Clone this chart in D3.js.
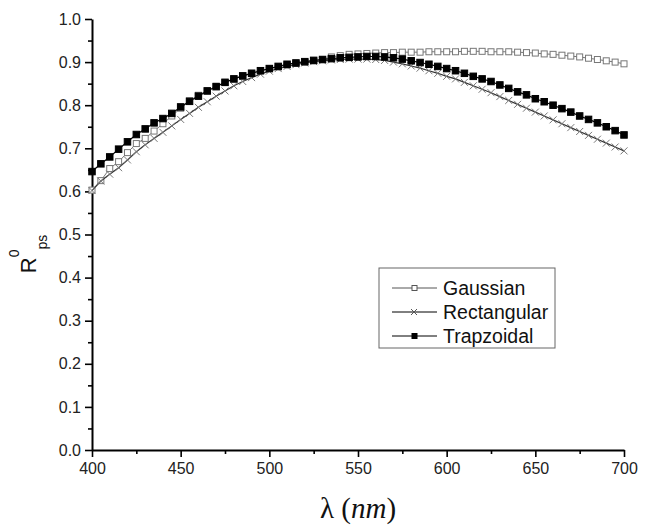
<!DOCTYPE html>
<html>
<head>
<meta charset="utf-8">
<script src="https://cdn.jsdelivr.net/npm/d3@7"></script>
<style>
body { margin: 0; background: #fff; }
svg { display: block; font-family: "Liberation Sans", Arial, sans-serif; }
.axis path, .axis line { stroke: #000; }
.axis text { font-size: 16px; fill: #222; font-family: "Liberation Sans", Arial, sans-serif; }
</style>
</head>
<body>
<svg id="chart"></svg>
<script>
// wavelength (nm)
const wavelength = [400,405,410,415,420,425,430,435,440,445,450,455,460,465,470,475,480,485,490,495,
  500,505,510,515,520,525,530,535,540,545,550,555,560,565,570,575,580,585,590,595,
  600,605,610,615,620,625,630,635,640,645,650,655,660,665,670,675,680,685,690,695,700];

const gaussian = [0.603,0.625,0.653,0.669,0.690,0.711,0.723,0.740,0.757,0.775,0.793,0.810,0.823,0.834,0.844,0.853,0.861,0.868,0.874,0.880,
  0.885,0.889,0.893,0.897,0.900,0.903,0.906,0.912,0.915,0.918,0.919,0.920,0.921,0.922,0.922,0.923,0.923,0.923,0.924,0.924,
  0.924,0.924,0.925,0.925,0.925,0.924,0.924,0.924,0.923,0.922,0.921,0.919,0.918,0.916,0.914,0.912,0.909,0.906,0.903,0.900,0.896];

const rectangular = [0.602,0.624,0.640,0.655,0.673,0.692,0.708,0.723,0.737,0.752,0.767,0.781,0.795,0.808,0.821,0.833,0.845,0.855,0.864,0.872,
  0.879,0.885,0.890,0.894,0.898,0.901,0.903,0.905,0.906,0.907,0.907,0.907,0.906,0.904,0.900,0.896,0.891,0.886,0.880,0.874,
  0.867,0.861,0.853,0.845,0.837,0.829,0.820,0.811,0.802,0.793,0.784,0.775,0.766,0.757,0.748,0.739,0.730,0.721,0.712,0.703,0.694];

const trapzoidal = [0.646,0.664,0.680,0.698,0.715,0.732,0.745,0.759,0.769,0.781,0.796,0.809,0.821,0.833,0.843,0.853,0.861,0.868,0.874,0.880,
  0.885,0.890,0.895,0.898,0.901,0.904,0.906,0.908,0.910,0.911,0.912,0.913,0.913,0.912,0.910,0.907,0.903,0.899,0.895,0.890,
  0.885,0.880,0.874,0.867,0.861,0.855,0.847,0.839,0.831,0.824,0.815,0.808,0.800,0.792,0.784,0.775,0.767,0.759,0.750,0.741,0.731];

const xTicks = [400,450,500,550,600,650,700];
const xMinor = [425,475,525,575,625,675];
const yTicks = [0,0.1,0.2,0.3,0.4,0.5,0.6,0.7,0.8,0.9,1.0];
const yMinor = [0.05,0.15,0.25,0.35,0.45,0.55,0.65,0.75,0.85,0.95];
const seriesNames = ['Gaussian','Rectangular','Trapzoidal'];

const width = 649, height = 525;
const margin = {top: 19, right: 25, bottom: 75, left: 92};
const innerW = width - margin.left - margin.right;
const innerH = height - margin.top - margin.bottom;

const svg = d3.select('#chart').attr('width', width).attr('height', height);
const chart = svg.append('g').attr('transform', `translate(${margin.left},${margin.top})`);

const xscale = d3.scaleLinear().domain([400,700]).range([0, innerW]);
const yscale = d3.scaleLinear().domain([0,1]).range([innerH, 0]);

// minor ticks
chart.append('g').attr('class','axis')
  .attr('transform', `translate(0,${innerH})`)
  .call(d3.axisBottom(xscale).tickValues(xMinor).tickSize(4).tickSizeOuter(0).tickFormat(''))
  .call(g => g.select('.domain').remove())
  .selectAll('line').attr('stroke-width', 1.6);
chart.append('g').attr('class','axis')
  .call(d3.axisLeft(yscale).tickValues(yMinor).tickSize(4).tickSizeOuter(0).tickFormat(''))
  .call(g => g.select('.domain').remove())
  .selectAll('line').attr('stroke-width', 1.6);

// major axes
const xg = chart.append('g').attr('class','axis')
  .attr('transform', `translate(0,${innerH})`)
  .call(d3.axisBottom(xscale).tickValues(xTicks).tickSize(7).tickSizeOuter(0).tickPadding(6));
xg.select('.domain').attr('stroke-width', 2);
xg.selectAll('line').attr('stroke-width', 1.6);

const yg = chart.append('g').attr('class','axis')
  .call(d3.axisLeft(yscale).tickValues(yTicks).tickSize(7).tickSizeOuter(0).tickPadding(4).tickFormat(d3.format('.1f')));
yg.select('.domain').attr('stroke-width', 2);
yg.selectAll('line').attr('stroke-width', 1.6);

const line = d3.line().x(d => xscale(d[0])).y(d => yscale(d[1]));
const zip = vals => wavelength.map((w, i) => [w, vals[i]]);

function drawSquare(g, data, fill, stroke, s) {
  g.selectAll('rect').data(data).join('rect')
    .attr('x', d => xscale(d[0]) - s / 2)
    .attr('y', d => yscale(d[1]) - s / 2)
    .attr('width', s).attr('height', s)
    .attr('fill', fill).attr('stroke', stroke).attr('stroke-width', 1);
}
function drawCross(g, data, stroke, s) {
  g.selectAll('path.mk').data(data).join('path').attr('class','mk')
    .attr('d', d => {
      const cx = xscale(d[0]), cy = yscale(d[1]);
      return `M${cx - s},${cy - s}L${cx + s},${cy + s}M${cx - s},${cy + s}L${cx + s},${cy - s}`;
    })
    .attr('stroke', stroke).attr('stroke-width', 1).attr('fill', 'none');
}

// Gaussian
const gG = chart.append('g');
gG.append('path').datum(zip(gaussian)).attr('d', line)
  .attr('fill','none').attr('stroke','#777').attr('stroke-width',1);
drawSquare(gG, zip(gaussian), '#fff', '#777', 6);

// Rectangular
const gR = chart.append('g');
gR.append('path').datum(zip(rectangular)).attr('d', line)
  .attr('fill','none').attr('stroke','#333').attr('stroke-width',1.2);
drawCross(gR, zip(rectangular), '#777', 3.5);

// Trapzoidal
const gT = chart.append('g');
gT.append('path').datum(zip(trapzoidal)).attr('d', line)
  .attr('fill','none').attr('stroke','#000').attr('stroke-width',1.2);
drawSquare(gT, zip(trapzoidal), '#000', '#000', 6.5);

// legend
const lg = svg.append('g').attr('transform', 'translate(379,268)');
lg.append('rect').attr('width', 176).attr('height', 80)
  .attr('fill','#fff').attr('stroke','#666').attr('stroke-width',1);
const rowY = [20, 44, 68];
seriesNames.forEach((name, i) => {
  const r = lg.append('g').attr('transform', `translate(0,${rowY[i]})`);
  r.append('line').attr('x1', 13).attr('x2', 58).attr('y1', 0).attr('y2', 0)
    .attr('stroke', i === 0 ? '#555' : '#000').attr('stroke-width', 1);
  if (i === 0) {
    r.append('rect').attr('x', 33).attr('y', -2.5).attr('width', 5).attr('height', 5)
      .attr('fill','#fff').attr('stroke','#555');
  } else if (i === 1) {
    r.append('path').attr('d','M32,-3L38,3M32,3L38,-3').attr('stroke','#555').attr('fill','none');
  } else {
    r.append('rect').attr('x', 32.5).attr('y', -3).attr('width', 6).attr('height', 6).attr('fill','#000');
  }
  r.append('text').attr('x', 64).attr('y', 7).style('font-size','19.5px').attr('fill','#111').text(name);
});

// axis labels
svg.append('text')
  .attr('x', margin.left + innerW / 2).attr('y', 518)
  .attr('text-anchor','middle')
  .style('font-family','"Liberation Serif", "Times New Roman", serif')
  .style('font-size','29px').attr('fill','#111')
  .call(t => {
    t.append('tspan').text('λ (');
    t.append('tspan').style('font-style','italic').text('nm');
    t.append('tspan').text(')');
  });

const yl = svg.append('text')
  .attr('transform', 'rotate(-90)')
  .attr('x', -254).attr('y', 36)
  .attr('text-anchor','middle').attr('fill','#111');
yl.append('tspan').style('font-size','22px').text('R');
yl.append('tspan').style('font-size','14px').attr('dy', -17).text('0');
yl.append('tspan').style('font-size','14px').attr('dy', 28).text('ps');
</script>
</body>
</html>
